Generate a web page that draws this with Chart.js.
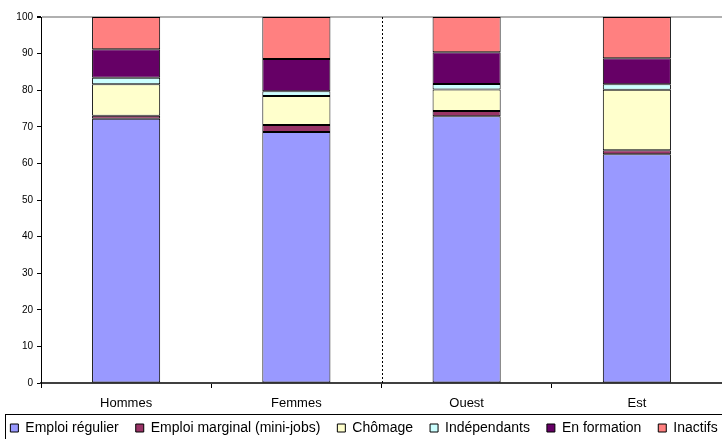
<!DOCTYPE html>
<html>
<head>
<meta charset="utf-8">
<script src="https://cdn.jsdelivr.net/npm/chart.js@4/dist/chart.umd.min.js"></script>
<style>
  html, body { margin: 0; padding: 0; background: #fff; overflow: hidden; }
  #wrap { width: 722px; height: 439px; position: relative; }
</style>
</head>
<body>
<div id="wrap"><canvas id="c" width="722" height="439"></canvas></div>
<script>
// Categories and shares (%) per activity status
const categories = ['Hommes', 'Femmes', 'Ouest', 'Est'];
const emploiRegulier = [72.2, 68.6, 72.9, 62.5];
const emploiMarginal = [0.8, 1.9, 1.4, 1.1];
const chomage = [8.6, 7.9, 5.9, 16.5];
const independants = [1.8, 1.3, 1.5, 1.5];
const enFormation = [7.8, 8.8, 8.7, 7.1];
const inactifs = [8.8, 11.5, 9.6, 11.3];
const yTicks = [0, 10, 20, 30, 40, 50, 60, 70, 80, 90, 100];

const FONT = "Arial, 'Liberation Sans', sans-serif";
Chart.defaults.color = '#000';
Chart.defaults.font.family = FONT;

function series(label, data, color) {
  return {
    label, data,
    backgroundColor: color,
    borderColor: '#000',
    borderWidth: 1,
    borderSkipped: false,
    barPercentage: 0.4,
    categoryPercentage: 1.0
  };
}

const LEGEND_PAD = 17;
const LEGEND_FONT = 14;
const LEGEND_H = 26;      // space reserved at the bottom for the legend
const X_AXIS_H = 30;      // space for the category labels
const LEGEND_TEXT_Y = 428;

// Legend: single row, fixed height, placed inside a framed box
const legendFrame = {
  id: 'legendFrame',
  beforeInit(chart) {
    const lg = chart.legend;
    if (lg) {
      const fit = lg.fit.bind(lg);
      lg.fit = function () {
        this.maxWidth = 2000;   // keep all six entries on one line
        fit();
        this.height = LEGEND_H;
      };
    }
  },
  beforeDraw(chart) {
    const lg = chart.legend;
    if (lg) {
      // widen the box so the whole row fits without wrapping
      lg.left = -15;
      lg.right = chart.width + 21;
      lg.width = lg.right - lg.left;
      lg.top = LEGEND_TEXT_Y - LEGEND_FONT / 2 - LEGEND_PAD;
      lg.bottom = chart.height;
      lg.height = lg.bottom - lg.top;
    }
  },
  afterDraw(chart) {
    const ctx = chart.ctx;
    ctx.save();
    ctx.strokeStyle = '#000';
    ctx.lineWidth = 1;
    ctx.strokeRect(5.5, 414.5, 740, 40);
    ctx.restore();
  }
};

// Dotted separator between the sex and region groups
const groupSeparator = {
  id: 'groupSeparator',
  afterDatasetsDraw(chart) {
    const x = chart.scales.x;
    const area = chart.chartArea;
    const px = Math.round((x.getPixelForValue(1) + x.getPixelForValue(2)) / 2) + 0.5;
    const ctx = chart.ctx;
    ctx.save();
    ctx.strokeStyle = '#000';
    ctx.lineWidth = 1;
    ctx.setLineDash([2, 2]);
    ctx.beginPath();
    ctx.moveTo(px, area.top);
    ctx.lineTo(px, area.bottom);
    ctx.stroke();
    ctx.restore();
  }
};

new Chart(document.getElementById('c'), {
  type: 'bar',
  data: {
    labels: categories,
    datasets: [
      series('Emploi régulier', emploiRegulier, '#9999FF'),
      series('Emploi marginal (mini-jobs)', emploiMarginal, '#993366'),
      series('Chômage', chomage, '#FFFFCC'),
      series('Indépendants', independants, '#CCFFFF'),
      series('En formation', enFormation, '#660066'),
      series('Inactifs', inactifs, '#FF8080')
    ]
  },
  options: {
    responsive: false,
    animation: false,
    devicePixelRatio: 1,
    layout: { padding: { top: 17, right: 0, left: 0, bottom: 0 } },
    plugins: {
      tooltip: { enabled: false },
      legend: {
        position: 'bottom',
        labels: {
          font: { family: FONT, size: LEGEND_FONT },
          color: '#000',
          boxWidth: 8,
          boxHeight: 8,
          padding: LEGEND_PAD
        }
      }
    },
    scales: {
      x: {
        stacked: true,
        afterFit(s) { s.height = X_AXIS_H; },
        grid: {
          offset: true,
          drawOnChartArea: false,
          drawTicks: true,
          tickLength: 5,
          tickColor: '#000'
        },
        border: { color: '#404040', width: 2 },
        ticks: { font: { family: FONT, size: 13 }, color: '#000', padding: 8, maxRotation: 0 }
      },
      y: {
        stacked: true,
        min: 0,
        max: 100,
        afterFit(s) { s.width = 41; },
        afterBuildTicks(s) { s.ticks = yTicks.map(v => ({ value: v })); },
        grid: {
          drawOnChartArea: true,
          color: c => (c.tick && c.tick.value === 100) ? '#b0b0b0' : 'rgba(0,0,0,0)',
          lineWidth: c => (c.tick && c.tick.value === 100) ? 2 : 1,
          drawTicks: true,
          tickLength: 4,
          tickColor: '#000'
        },
        border: { color: '#000', width: 1 },
        ticks: { font: { family: FONT, size: 10 }, color: '#000', padding: 4 }
      }
    }
  },
  plugins: [legendFrame, groupSeparator]
});
</script>
</body>
</html>
